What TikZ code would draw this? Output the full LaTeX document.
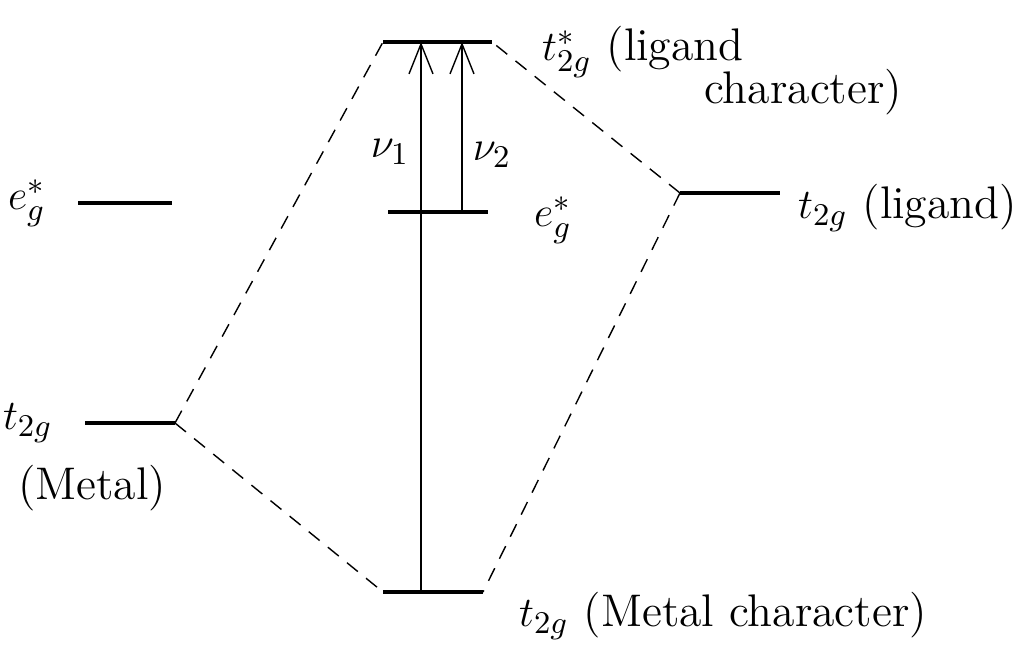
\documentclass[tikz,border=0pt]{standalone}
\usetikzlibrary{arrows.meta,positioning}
\begin{document}
\begin{tikzpicture}[x=0.01cm,y=-0.01cm,
    level/.style={line width=0.9pt},
    link/.style={dashed, thin, dash pattern=on 4pt off 3pt},
    trans/.style={-{Straight Barb[length=3mm,width=2.4mm]}, thin},
    lbl/.style={font=\fontsize{13}{15}\selectfont, inner sep=1pt}]
    \useasboundingbox (0,0) rectangle (1020,657);

    % Levels
    \draw[level] (78,203) coordinate (egm_l) -- (172,203) coordinate (egm_r);
    \draw[level] (85,423) coordinate (tm_l) -- (175,423) coordinate (tm_r);
    \draw[level] (383,42) coordinate (ts_l) -- (492,42) coordinate (ts_r);
    \draw[level] (388,212) coordinate (egs_l) -- (488,212) coordinate (egs_r);
    \draw[level] (680,193) coordinate (tl_l) -- (780,193) coordinate (tl_r);
    \draw[level] (383,592) coordinate (tb_l) -- (483,592) coordinate (tb_r);

    % Labels
    \node[lbl, left=8pt of egm_l] (egm) {$e_g^{*}$};
    \node[lbl, left=8pt of tm_l] (tm) {$t_{2g}$};
    \node[lbl] (tm_txt) at (92,488) {(Metal)};
    \node[lbl, anchor=west] (ts) at (538,52) {$t_{2g}^{*}$ (ligand};
    \node[lbl, anchor=west] (ts_txt) at (700,92) {character)};
    \node[lbl, anchor=west] (egs) at (530,220) {$e_g^{*}$};
    \node[lbl, anchor=west] (tl) at (794,208) {$t_{2g}$ (ligand)};
    \node[lbl, anchor=west] (tb) at (515,616) {$t_{2g}$ (Metal character)};

    % Mixing
    \draw[link] (tm_r) -- (ts_l);
    \draw[link] (tm_r) -- (tb_l);
    \draw[link] (tl_l) -- (ts_r);
    \draw[link] (tl_l) -- (tb_r);

    % Transitions
    \coordinate (nu1_s) at (421,592);
    \coordinate (nu1_e) at (421,42);
    \coordinate (nu2_s) at (462,212);
    \coordinate (nu2_e) at (462,42);
    \draw[trans] (nu1_s) -- (nu1_e);
    \draw[trans] (nu2_s) -- (nu2_e);
    \node[lbl] (nu1) at (390,152) {$\nu_1$};
    \node[lbl] (nu2) at (492,155) {$\nu_2$};
\end{tikzpicture}
\end{document}
